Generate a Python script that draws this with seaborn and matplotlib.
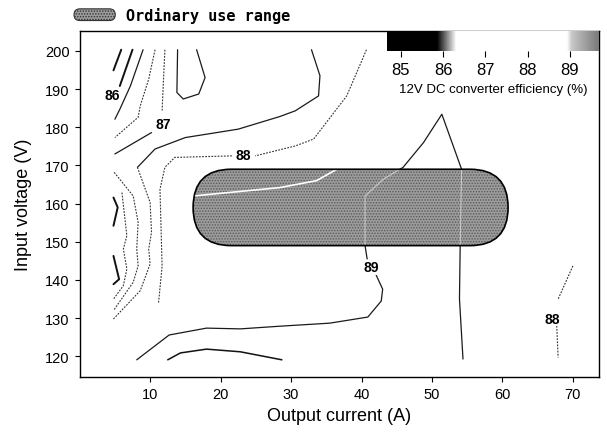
import numpy as np
import matplotlib
matplotlib.use("Agg")
import matplotlib.pyplot as plt
import seaborn as sns
from matplotlib.patches import FancyBboxPatch, Patch
from matplotlib.colors import LinearSegmentedColormap
from matplotlib.legend_handler import HandlerPatch

# ---------------- data (Output current A, Input voltage V) ----------------
x_ticks = [10, 20, 30, 40, 50, 60, 70]
y_ticks = [120, 130, 140, 150, 160, 170, 180, 190, 200]
cbar_ticks = [85, 86, 87, 88, 89]
cbar_range = [84.67, 89.69]

# 86 % family (upper left)
l86a_A = [4.8, 5.9]
l86a_V = [194.9, 200.3]
l86b_A = [7.5, 5.7]
l86b_V = [200.3, 190.8]
l86c_A = [9.0, 7.2, 5.7, 5.0]
l86c_V = [200.3, 190.8, 184.7, 182.1]
l86d_A = [10.7, 9.8, 8.6, 8.3, 5.0]
l86d_V = [200.3, 192.6, 185.6, 182.6, 177.3]
# 87 %
l87_top_A = [12.1, 11.9, 11.7]
l87_top_V = [200.3, 192.6, 184.2]
l87_bot_A = [10.2, 5.0]
l87_bot_V = [178.6, 173.0]
tongue_A = [13.9, 13.8, 14.7, 16.9, 17.8, 16.6]
tongue_V = [200.3, 189.1, 187.4, 188.7, 193.0, 200.3]
# U-shaped line and its lower branch
u_top_A = [32.9, 34.1, 33.9, 30.6, 28.4, 22.5, 15.0, 10.7, 8.2]
u_top_V = [200.3, 193.5, 188.2, 184.3, 182.8, 179.5, 177.3, 174.3, 169.5]
u_low_A = [8.2, 10.0, 10.2, 9.8, 10.0, 8.6, 4.8]
u_low_V = [169.5, 160.3, 152.5, 148.1, 144.2, 137.2, 129.8]
# 88 % (middle)
l88_right_A = [40.7, 37.9, 33.2, 30.6, 24.9]
l88_right_V = [200.3, 188.2, 176.9, 175.1, 172.5]
l88_left_A = [21.6, 13.5, 12.1, 11.4, 11.7, 11.2]
l88_left_V = [172.5, 172.1, 169.5, 163.8, 143.6, 134.1]
# left edge short lines
lA1_A = [4.8, 5.4, 4.8]
lA1_V = [161.6, 159.0, 154.2]
lA2_A = [4.8, 5.6, 4.8]
lA2_V = [146.3, 140.2, 138.9]
lB_A = [6.0, 6.7, 6.2, 6.7, 6.2, 4.8]
lB_V = [162.9, 151.6, 148.1, 142.9, 138.5, 135.0]
lC_A = [4.9, 7.6, 8.3, 8.1, 8.3, 7.6, 4.8]
lC_V = [168.2, 162.0, 155.1, 148.1, 143.7, 139.4, 132.0]
# 89 %
l89a_A = [8.1, 12.7, 18.0, 22.8, 28.4, 35.5, 40.9, 42.8, 43.0, 41.9]
l89a_V = [119.1, 125.6, 127.4, 127.2, 127.9, 128.7, 130.3, 134.5, 137.6, 142.0]
l89b_A = [40.8, 40.5, 40.5, 43.1, 45.9, 48.8, 51.4, 54.2, 54.0, 53.9, 54.4]
l89b_V = [145.5, 149.0, 162.0, 166.4, 169.5, 176.0, 183.4, 169.0, 149.0, 135.0, 119.3]
# bottom arc
arc_A = [12.5, 14.3, 18.0, 22.8, 28.7]
arc_V = [119.1, 120.9, 121.9, 121.2, 119.1]
# 88 % (right)
r88_top_A = [70.0, 67.9]
r88_top_V = [143.7, 135.0]
r88_bot_A = [67.7, 67.9]
r88_bot_V = [128.0, 119.7]
# line seen inside the ordinary use range
inner_A = [15.0, 16.1, 28.4, 33.6, 36.5, 37.5]
inner_V = [161.8, 162.0, 164.2, 166.0, 169.0, 171.0]

# contour labels
lab_text = ["86", "87", "88", "89", "88"]
lab_A = [4.6, 11.9, 23.2, 41.4, 67.1]
lab_V = [188.4, 180.8, 172.7, 143.3, 129.9]

# ordinary use range
use_A = [16.1, 60.8]
use_V = [149.0, 169.0]

# ---------------- style ----------------
sns.set_style("ticks")
plt.rcParams['font.family'] = ['Liberation Sans', 'DejaVu Sans']
plt.rcParams['text.color'] = 'black'
plt.rcParams['axes.labelcolor'] = 'black'
plt.rcParams['xtick.color'] = 'black'
plt.rcParams['ytick.color'] = 'black'
plt.rcParams['axes.edgecolor'] = 'black'
plt.rcParams['hatch.linewidth'] = 0.7

fig = plt.figure(figsize=(6.07, 4.35), dpi=100)
W, H = 607, 435
ax = fig.add_axes([80 / W, 1 - 378 / H, 519 / W, 346 / H])

solid_dark = dict(color='#111111', lw=1.4, linestyle='-')
solid = dict(color='#1a1a1a', lw=0.9, linestyle='-')
dotted = dict(color='#333333', lw=0.8, linestyle=(0, (1.6, 1.2)))

lines = [
    (l86a_A, l86a_V, solid_dark), (l86b_A, l86b_V, solid_dark),
    (l86c_A, l86c_V, solid), (l86d_A, l86d_V, dotted),
    (l87_top_A, l87_top_V, dotted), (l87_bot_A, l87_bot_V, solid),
    (tongue_A, tongue_V, solid), (u_top_A, u_top_V, solid),
    (u_low_A, u_low_V, dotted), (l88_right_A, l88_right_V, dotted),
    (l88_left_A, l88_left_V, dotted), (lA1_A, lA1_V, solid_dark),
    (lA2_A, lA2_V, solid_dark), (lB_A, lB_V, dotted), (lC_A, lC_V, dotted),
    (l89a_A, l89a_V, solid), (l89b_A, l89b_V, solid),
    (arc_A, arc_V, dict(color='#111111', lw=1.1, linestyle='-')),
    (r88_top_A, r88_top_V, dotted), (r88_bot_A, r88_bot_V, dotted),
]
for xs, ys, st in lines:
    sns.lineplot(x=xs, y=ys, sort=False, estimator=None, ax=ax, zorder=2, **st)

ax.set_xlim(0.05, 73.7)
ax.set_ylim(114.6, 205.2)
ax.set_xticks(x_ticks)
ax.set_yticks(y_ticks)
ax.tick_params(direction='out', length=3.5, width=0.8, labelsize=10.5, pad=4)
for s in ax.spines.values():
    s.set_visible(True)
    s.set_linewidth(1.0)
ax.set_xlabel('Output current (A)', fontsize=13, labelpad=4)
ax.set_ylabel('Input voltage (V)', fontsize=13, labelpad=9)

# ordinary use range (stadium)
p0 = ax.transData.transform((0, 0))
p1 = ax.transData.transform((1, 1))
px_A = p1[0] - p0[0]
px_V = p1[1] - p0[1]
hV = use_V[1] - use_V[0]
r_A = (hV / 2) * px_V / px_A
m = px_A / px_V
box = dict(boxstyle=f"round,pad=0,rounding_size={r_A}", mutation_aspect=m)
fill = FancyBboxPatch((use_A[0], use_V[0]), use_A[1] - use_A[0], hV,
                      facecolor='#9c9c9c', edgecolor='#5a5a5a', hatch='......',
                      lw=0, zorder=3, **box)
ax.add_patch(fill)
outline = FancyBboxPatch((use_A[0], use_V[0]), use_A[1] - use_A[0], hV,
                         fill=False, edgecolor='black', lw=1.2, zorder=4, **box)
ax.add_patch(outline)

# lines visible within the range
sns.lineplot(x=inner_A, y=inner_V, sort=False, estimator=None, ax=ax,
             color='white', lw=1.2, zorder=3.5)
ax.lines[-1].set_clip_path(fill)
sns.lineplot(x=l89b_A, y=l89b_V, sort=False, estimator=None, ax=ax,
             color='#d0d0d0', lw=0.7, zorder=3.5)
ax.lines[-1].set_clip_path(fill)

for t, a, v in zip(lab_text, lab_A, lab_V):
    ax.text(a, v, t, ha='center', va='center', fontsize=10, fontweight='bold',
            zorder=6, bbox=dict(facecolor='white', edgecolor='none', pad=0.4))

# legend
handle = Patch(facecolor='#9c9c9c', edgecolor='#333333', hatch='......', lw=0.8,
               label='Ordinary use range')


def stadium(legend, orig_handle, xdescent, ydescent, width, height, fontsize):
    return FancyBboxPatch((-xdescent, -ydescent), width, height,
                          boxstyle=f"round,pad=0,rounding_size={height / 2}")


ax.legend(handles=[handle], handler_map={Patch: HandlerPatch(patch_func=stadium)},
          loc='lower left', bbox_to_anchor=(74 / W, 1 - 24 / H),
          bbox_transform=fig.transFigure, frameon=False,
          prop={'family': 'DejaVu Sans Mono', 'weight': 'bold', 'size': 11},
          handlelength=2.7, handleheight=0.8, handletextpad=0.7,
          borderpad=0, borderaxespad=0)

# colour bar
lo, hi = cbar_range


def pos(v):
    return (v - lo) / (hi - lo)


cmap = LinearSegmentedColormap.from_list('eff', [
    (0.0, 'black'), (pos(85.85), 'black'), (pos(86.3), 'white'),
    (pos(88.95), 'white'), (pos(89.05), '#c8c8c8'), (1.0, '#7a7a7a')])
cax = fig.add_axes([387 / W, 1 - 52 / H, (599 - 387) / W, 20 / H])
grad = np.linspace(lo, hi, 400)[None, :]
cax.imshow(grad, extent=[lo, hi, 0, 1], aspect='auto', cmap=cmap, vmin=lo, vmax=hi)
cax.set_xlim(lo, hi)
cax.set_yticks([])
cax.set_xticks(cbar_ticks)
cax.tick_params(axis='x', direction='out', length=4, width=0.8, labelsize=12, pad=4)
for s in cax.spines.values():
    s.set_visible(False)
cax.set_xlabel('12V DC converter efficiency (%)', fontsize=9.5, labelpad=4)

fig.savefig('out.png', dpi=100)
